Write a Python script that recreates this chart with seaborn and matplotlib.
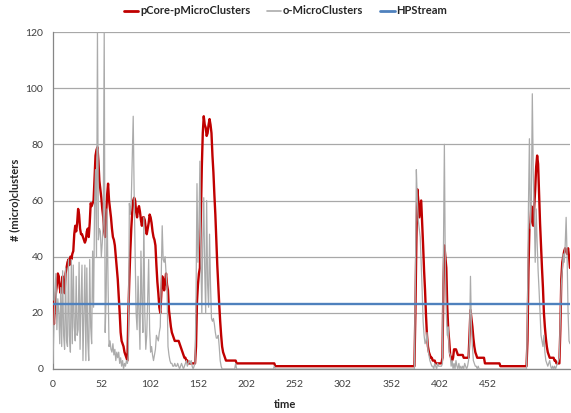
import numpy as np
import pandas as pd
import matplotlib
matplotlib.use("Agg")
import matplotlib.pyplot as plt
import seaborn as sns
from matplotlib.lines import Line2D

# ---------------- data ----------------
series_names = ["pCore-pMicroClusters", "o-MicroClusters", "HPStream"]

x_tick_positions = [0, 50, 100, 150, 200, 250, 300, 350, 400, 450]
x_tick_labels = ["0", "52", "102", "152", "202", "252", "302", "352", "402", "452"]
y_ticks = [0, 20, 40, 60, 80, 100, 120]

pcore = (
    [24, 16, 23, 27, 30, 34, 33, 29, 27, 30,
     33, 29, 27, 34, 36, 38, 39, 37, 40, 39,
     41, 42, 48, 51, 49, 52, 57, 55, 50, 48,
     48, 47, 46, 45, 46, 49, 50, 47, 52, 59,
     58, 59, 60, 68, 76, 78, 79, 74, 67, 64,
     61, 57, 54, 49, 47, 55, 62, 66, 60, 57,
     54, 50, 47, 46, 44, 40, 36, 32, 26, 20,
     13, 10, 9, 8, 6, 5, 4, 3]
    + [20, 32, 42, 50, 56, 60, 61, 60, 56, 54,
       57, 58, 56, 53, 51, 54, 54, 53, 50, 48,
       50, 52, 55, 54, 52, 49, 47, 46, 44, 37,
       31, 27, 22, 20, 26, 33, 32, 28, 31, 34,
       30, 28, 21, 18, 15, 13, 12, 11, 10, 10,
       10, 10, 10, 9, 8, 7, 6, 5, 4, 4,
       3, 3] + [2] * 8
    + [8, 24, 30, 34, 36, 55, 72, 84, 90, 87,
       86, 83, 84, 87, 89, 87, 84, 76, 70, 62,
       55, 46, 37, 30, 23, 17, 12, 8, 6, 5,
       4]
    + [3] * 11 + [2] * 40 + [1] * 145
    + [20, 45, 64, 60, 54, 57, 60, 52, 44, 35,
       28, 19, 12, 8, 6, 5, 4, 4, 3, 3,
       3, 2, 2, 2, 2, 2, 2, 2]
    + [4, 30, 44, 40, 36, 22, 14, 10, 5, 4,
       3, 4, 7, 7, 7, 6, 5, 5, 5, 5,
       5, 5, 4, 4, 4, 4, 4, 4, 12, 21,
       18, 15, 11, 8, 6, 5] + [4] * 8
    + [2] * 16 + [1] * 28
    + [10, 35, 50, 52, 58, 54, 51, 58, 64, 72,
       76, 73, 62, 52, 44, 36, 29, 20, 15, 11,
       8, 6, 5, 4, 4, 4, 4, 4, 3, 3,
       2, 2, 2, 2, 14, 32, 38, 40, 42, 43,
       42, 41, 43, 40, 36]
)

omicro = (
    [2, 16, 28, 34, 14, 25, 20, 9, 29, 8,
     35, 12, 7, 36, 10, 8, 39, 12, 6, 39,
     9, 37, 15, 10, 33, 12, 14, 38, 7, 24,
     37, 3, 20, 37, 3, 36, 10, 3, 39, 15,
     9, 42, 22, 58, 71, 40, 120, 46, 50, 49,
     40, 45, 52, 120, 13, 26, 57, 30, 8, 10,
     7, 6, 9, 5, 7, 3, 6, 4, 6, 2,
     4, 1, 3, 0, 2, 1, 3, 2]
    + [5, 59, 55, 60, 75, 90, 62, 42, 20, 14,
       33, 20, 7, 42, 25, 13, 54, 20, 7, 12,
       25, 39, 14, 6, 8, 5, 3, 5, 7, 12,
       11, 10, 13, 15, 33, 51, 39, 38, 40, 34,
       29, 8, 5, 3, 2, 2, 1, 1, 2, 1,
       1, 2, 1, 0, 1, 2, 1, 0, 1, 2,
       3, 1, 2, 3, 2, 3, 1, 0, 1, 2]
    + [25, 66, 38, 50, 74, 40, 20, 45, 61, 35,
       20, 60, 30, 22, 48, 30, 18, 17, 18, 16,
       13, 11, 11, 12, 8, 3, 1, 0, 0, 0,
       0]
    + [0] * 10 + [2] + [0] * 39 + [1] + [0] * 145
    + [30, 71, 60, 53, 50, 47, 38, 28, 17, 12,
       9, 10, 13, 7, 5, 3, 2, 1, 1, 0,
       2, 1, 0, 2, 1, 1, 1, 1]
    + [2, 40, 80, 35, 20, 12, 15, 6, 5, 1,
       3, 0, 2, 0, 3, 1, 0, 2, 0, 1,
       0, 1, 0, 2, 1, 0, 1, 3, 10, 33,
       15, 8, 3, 2, 1, 1, 0, 1] + [0] * 6
    + [0] * 44
    + [20, 58, 82, 50, 60, 98, 70, 55, 38, 57,
       45, 35, 28, 20, 12, 10, 8, 12, 6, 3,
       2, 1, 2, 3, 1, 0, 1, 0, 1, 0,
       1, 2, 3, 4, 18, 30, 35, 41, 38, 44,
       54, 40, 20, 10, 9]
)

hpstream = [23] * 536

assert len(pcore) == 536 and len(omicro) == 536, (len(pcore), len(omicro))

t = np.arange(len(pcore))
df = pd.DataFrame({
    "t": np.concatenate([t, t, t]),
    "value": pcore + omicro + hpstream,
    "series": np.repeat(series_names, len(t)),
})

colors = {"pCore-pMicroClusters": "#C00000",
          "o-MicroClusters": "#ABABAB",
          "HPStream": "#4F81BD"}
widths = {"pCore-pMicroClusters": 1.7,
          "o-MicroClusters": 0.9,
          "HPStream": 1.7}

# ---------------- figure ----------------
sns.set_style("white")
plt.rcParams["font.family"] = ["Lato", "DejaVu Sans"]

W, H = 571, 413
fig = plt.figure(figsize=(W / 100, H / 100), dpi=100)
L, R, T, B = 53, 570, 32, 369
ax = fig.add_axes([L / W, 1 - B / H, (R - L) / W, (B - T) / H])

for name in series_names:
    sns.lineplot(data=df[df["series"] == name], x="t", y="value",
                 color=colors[name], linewidth=widths[name], ax=ax,
                 legend=False, zorder=3)

ax.set_xlim(0, len(t) - 1)
ax.set_ylim(0, 120)

ax.set_yticks(y_ticks)
ax.set_yticklabels([str(v) for v in y_ticks], fontsize=7.5, color="#404040")
ax.set_xticks(x_tick_positions)
ax.set_xticklabels(x_tick_labels, fontsize=7.5, color="#404040")
ax.set_xticks(np.arange(0, len(t), 11), minor=True)
ax.tick_params(axis="x", which="major", length=0, pad=8)
ax.tick_params(axis="x", which="minor", length=4, color="#868686", width=0.8)
ax.tick_params(axis="y", which="major", length=4, color="#868686", width=0.8, pad=3)

ax.yaxis.grid(True, color="#A8A8A8", linewidth=0.9)
ax.xaxis.grid(False)
ax.set_axisbelow(True)

for s in ["top", "right"]:
    ax.spines[s].set_visible(False)
for s in ["left", "bottom"]:
    ax.spines[s].set_color("#868686")
    ax.spines[s].set_linewidth(0.9)

ax.set_xlabel("time", fontsize=8, fontweight="bold")
ax.set_ylabel("# (micro)clusters", fontsize=8, fontweight="bold")
ax.xaxis.set_label_coords((285 - L) / (R - L), (B - 399) / (B - T))
ax.yaxis.set_label_coords((20 - L) / (R - L), (B - 200) / (B - T))

handles = [Line2D([0], [0], color=colors[n], linewidth=widths[n] + 0.3) for n in series_names]
fig.legend(handles, series_names, loc="center", bbox_to_anchor=(0.5, 1 - 11 / H),
           ncol=3, frameon=False, prop={"weight": "bold", "size": 8},
           handlelength=1.3, handletextpad=0.15, columnspacing=1.5)

fig.savefig("out.png", dpi=100)
